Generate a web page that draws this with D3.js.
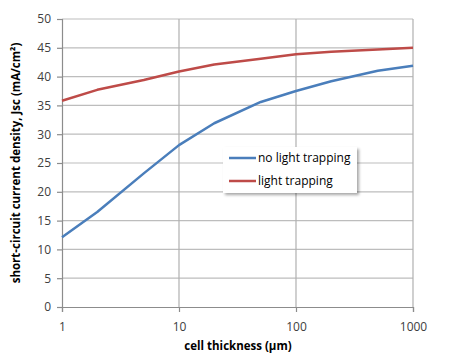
<!DOCTYPE html>
<html>
<head>
<meta charset="utf-8">
<script src="https://cdn.jsdelivr.net/npm/d3@7"></script>
<style>
  body { margin: 0; background: #fff; }
  text { font-family: "Open Sans", "Noto Sans", sans-serif; }
</style>
</head>
<body>
<main></main>
<script>
// cell thickness in um
const thickness = [1, 2, 5, 10, 20, 50, 100, 200, 500, 1000];
const noTrapping = [12.1, 16.5, 23.2, 28.1, 31.9, 35.6, 37.5, 39.2, 41.0, 41.9];
const withTrapping = [35.8, 37.7, 39.4, 40.9, 42.1, 43.1, 43.9, 44.3, 44.7, 45.0];
const seriesNames = ['no light trapping', 'light trapping'];
const seriesColors = ['#4a7ebb', '#be4b48'];
const xTicks = [1, 10, 100, 1000];
const yTicks = [0, 5, 10, 15, 20, 25, 30, 35, 40, 45, 50];

const width = 450;
const height = 362;
const pLeft = 62, pRight = 413, pTop = 19, pBottom = 307;

let svg = d3.select('main')
  .append('svg')
  .attr('width', width)
  .attr('height', height);

const x = d3.scaleLog().domain([1, 1000]).range([pLeft, pRight]);
const y = d3.scaleLinear().domain([0, 50]).range([pBottom, pTop]);

// gridlines
svg.append('g')
  .selectAll('line')
  .data(yTicks.slice(1))
  .enter()
  .append('line')
  .attr('x1', pLeft).attr('x2', pRight)
  .attr('y1', d => y(d)).attr('y2', d => y(d))
  .attr('stroke', '#bdbdbd')
  .attr('stroke-width', 1.2);

svg.append('g')
  .selectAll('line')
  .data(xTicks.slice(1))
  .enter()
  .append('line')
  .attr('x1', d => x(d)).attr('x2', d => x(d))
  .attr('y1', pTop).attr('y2', pBottom)
  .attr('stroke', '#b0b0b0')
  .attr('stroke-width', 1.2);

// axes
let yAxis = svg.append('g')
  .attr('transform', 'translate(' + pLeft + ',0)')
  .call(d3.axisLeft(y).tickValues(yTicks).tickSize(5).tickPadding(6));

let xAxis = svg.append('g')
  .attr('transform', 'translate(0,' + pBottom + ')')
  .call(d3.axisBottom(x).tickValues(xTicks).tickFormat(d3.format('d')).tickSize(5).tickPadding(10));

[yAxis, xAxis].forEach(function (a) {
  a.select('.domain').attr('stroke', '#8c8c8c').attr('stroke-width', 1.2);
  a.selectAll('.tick line').attr('stroke', '#8c8c8c').attr('stroke-width', 1.2);
  a.selectAll('.tick text')
    .attr('fill', '#404040')
    .style('font-size', '12px')
    .style('font-family', '"Open Sans", "Noto Sans", sans-serif');
});

// lines
const line = d3.line()
  .x(function (d, i) { return x(thickness[i]); })
  .y(function (d) { return y(d); });

[noTrapping, withTrapping].forEach(function (s, k) {
  svg.append('path')
    .datum(s)
    .attr('d', line)
    .attr('fill', 'none')
    .attr('stroke', seriesColors[k])
    .attr('stroke-width', 2.5)
    .attr('stroke-linejoin', 'round');
});

// axis titles
svg.append('text')
  .attr('x', 238)
  .attr('y', 350)
  .attr('text-anchor', 'middle')
  .style('font-size', '11.5px')
  .style('font-weight', 'bold')
  .attr('fill', '#000')
  .text('cell thickness (µm)');

svg.append('text')
  .attr('transform', 'translate(20,163) rotate(-90)')
  .attr('text-anchor', 'middle')
  .style('font-size', '11.5px')
  .style('font-weight', 'bold')
  .attr('fill', '#000')
  .text('short-circuit current density, Jsc (mA/cm²)');

// legend
const defs = svg.append('defs');
const f = defs.append('filter').attr('id', 'sh').attr('x', '-10%').attr('y', '-10%')
  .attr('width', '130%').attr('height', '140%');
f.append('feDropShadow').attr('dx', 2).attr('dy', 2).attr('stdDeviation', 1.5)
  .attr('flood-color', '#000').attr('flood-opacity', 0.35);

let lg = svg.append('g').attr('transform', 'translate(223,147)');
lg.append('rect')
  .attr('width', 134).attr('height', 46)
  .attr('fill', '#fff')
  .attr('filter', 'url(#sh)');

let items = lg.selectAll('g.item')
  .data(seriesNames)
  .enter()
  .append('g')
  .attr('transform', function (d, i) { return 'translate(0,' + (11 + i * 23) + ')'; });

items.append('line')
  .attr('x1', 6).attr('x2', 33)
  .attr('stroke', function (d, i) { return seriesColors[i]; })
  .attr('stroke-width', 2.5);

items.append('text')
  .attr('x', 35)
  .attr('y', 4)
  .style('font-size', '12px')
  .attr('fill', '#000')
  .text(function (d) { return d; });
</script>
</body>
</html>
